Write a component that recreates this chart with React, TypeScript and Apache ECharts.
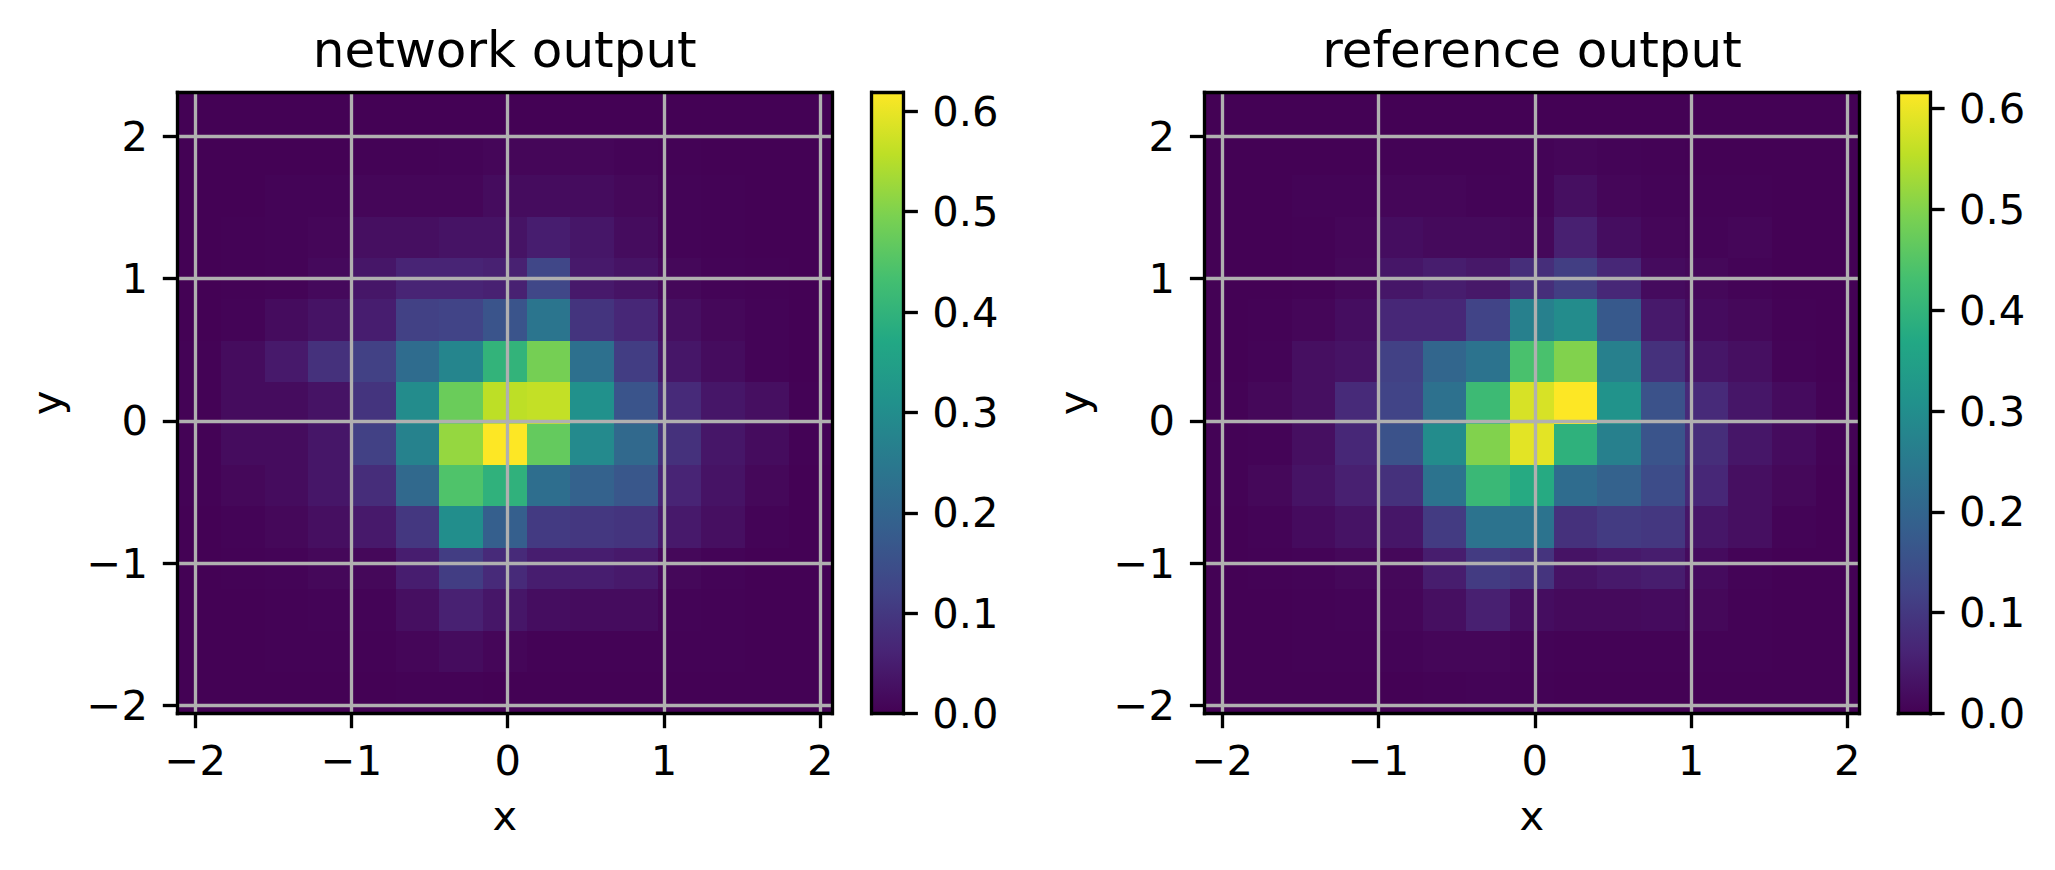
import React, { useEffect, useRef } from 'react';
import * as echarts from 'echarts';

// ---------- data ----------
const X_RANGE = [-2.114, 2.077];
const Y_RANGE = [-2.058, 2.31];
const N_BINS = 15;
const AXIS_TICKS = [-2, -1, 0, 1, 2];
const CBAR_TICKS = [0, 0.1, 0.2, 0.3, 0.4, 0.5, 0.6];
const TITLES = ['network output', 'reference output'];
const NETWORK_RANGE = [0, 0.619];
const REFERENCE_RANGE = [0, 0.616];

// rows listed from top (high y) to bottom (low y), columns left to right
const NETWORK_OUTPUT = [
  [0.001, 0.001, 0.001, 0.001, 0.001, 0.001, 0.001, 0.001, 0.001, 0.001, 0.001, 0.001, 0.001, 0.001, 0.001],
  [0.001, 0.001, 0.001, 0.001, 0.003, 0.003, 0.006, 0.009, 0.009, 0.009, 0.006, 0.003, 0.001, 0.001, 0.001],
  [0.001, 0.001, 0.006, 0.006, 0.009, 0.009, 0.009, 0.019, 0.019, 0.019, 0.012, 0.006, 0.003, 0.001, 0.001],
  [0.001, 0.003, 0.006, 0.009, 0.025, 0.025, 0.031, 0.031, 0.050, 0.037, 0.019, 0.006, 0.003, 0.001, 0.001],
  [0.001, 0.003, 0.006, 0.015, 0.037, 0.062, 0.062, 0.056, 0.130, 0.043, 0.031, 0.012, 0.006, 0.003, 0.001],
  [0.001, 0.006, 0.019, 0.031, 0.050, 0.118, 0.124, 0.161, 0.241, 0.093, 0.068, 0.025, 0.012, 0.006, 0.001],
  [0.003, 0.019, 0.043, 0.087, 0.118, 0.217, 0.279, 0.402, 0.489, 0.229, 0.111, 0.037, 0.019, 0.006, 0.001],
  [0.003, 0.019, 0.019, 0.031, 0.093, 0.297, 0.477, 0.557, 0.563, 0.310, 0.161, 0.074, 0.037, 0.025, 0.003],
  [0.003, 0.019, 0.019, 0.037, 0.118, 0.272, 0.520, 0.619, 0.470, 0.291, 0.210, 0.087, 0.037, 0.019, 0.003],
  [0.003, 0.012, 0.019, 0.037, 0.080, 0.210, 0.446, 0.396, 0.223, 0.192, 0.167, 0.062, 0.031, 0.012, 0.001],
  [0.001, 0.006, 0.012, 0.025, 0.043, 0.099, 0.303, 0.186, 0.105, 0.099, 0.093, 0.043, 0.025, 0.006, 0.001],
  [0.001, 0.003, 0.006, 0.012, 0.012, 0.050, 0.111, 0.074, 0.050, 0.050, 0.043, 0.012, 0.006, 0.001, 0.001],
  [0.001, 0.001, 0.003, 0.006, 0.006, 0.025, 0.056, 0.037, 0.022, 0.019, 0.019, 0.006, 0.003, 0.001, 0.001],
  [0.001, 0.001, 0.003, 0.003, 0.003, 0.009, 0.019, 0.009, 0.003, 0.003, 0.003, 0.003, 0.003, 0.001, 0.001],
  [0.001, 0.001, 0.001, 0.001, 0.001, 0.003, 0.003, 0.001, 0.001, 0.001, 0.001, 0.001, 0.001, 0.001, 0.001],
];

const REFERENCE_OUTPUT = [
  [0.001, 0.001, 0.001, 0.001, 0.001, 0.001, 0.001, 0.001, 0.001, 0.001, 0.001, 0.001, 0.001, 0.001, 0.001],
  [0.001, 0.001, 0.001, 0.001, 0.003, 0.003, 0.003, 0.006, 0.009, 0.006, 0.003, 0.001, 0.001, 0.001, 0.001],
  [0.001, 0.001, 0.006, 0.006, 0.009, 0.009, 0.006, 0.006, 0.025, 0.009, 0.006, 0.003, 0.003, 0.001, 0.001],
  [0.001, 0.001, 0.003, 0.009, 0.022, 0.015, 0.015, 0.012, 0.055, 0.022, 0.009, 0.006, 0.009, 0.001, 0.001],
  [0.001, 0.001, 0.003, 0.012, 0.037, 0.049, 0.040, 0.080, 0.111, 0.068, 0.018, 0.012, 0.006, 0.001, 0.001],
  [0.001, 0.003, 0.009, 0.022, 0.068, 0.068, 0.123, 0.265, 0.296, 0.172, 0.043, 0.018, 0.012, 0.003, 0.001],
  [0.001, 0.006, 0.025, 0.031, 0.117, 0.203, 0.234, 0.437, 0.499, 0.265, 0.086, 0.037, 0.025, 0.006, 0.001],
  [0.003, 0.012, 0.025, 0.074, 0.123, 0.228, 0.419, 0.579, 0.616, 0.314, 0.154, 0.074, 0.037, 0.018, 0.003],
  [0.003, 0.006, 0.025, 0.068, 0.154, 0.296, 0.499, 0.591, 0.394, 0.265, 0.160, 0.080, 0.037, 0.018, 0.003],
  [0.003, 0.012, 0.031, 0.055, 0.086, 0.234, 0.413, 0.376, 0.216, 0.191, 0.142, 0.068, 0.025, 0.012, 0.001],
  [0.001, 0.006, 0.018, 0.031, 0.037, 0.105, 0.234, 0.234, 0.086, 0.105, 0.099, 0.037, 0.025, 0.006, 0.001],
  [0.001, 0.003, 0.006, 0.012, 0.012, 0.049, 0.105, 0.092, 0.031, 0.043, 0.049, 0.018, 0.006, 0.001, 0.001],
  [0.001, 0.001, 0.003, 0.006, 0.009, 0.025, 0.055, 0.022, 0.015, 0.015, 0.018, 0.012, 0.003, 0.001, 0.001],
  [0.001, 0.001, 0.003, 0.003, 0.006, 0.009, 0.009, 0.006, 0.003, 0.003, 0.003, 0.003, 0.003, 0.001, 0.001],
  [0.001, 0.001, 0.001, 0.001, 0.001, 0.003, 0.006, 0.003, 0.001, 0.001, 0.001, 0.001, 0.001, 0.001, 0.001],
];

const VIRIDIS = [
  '#440154', '#482475', '#414487', '#355f8d', '#2a788e', '#21918c',
  '#22a884', '#44bf70', '#7ad151', '#bddf26', '#fde725',
];

// ---------- helpers ----------
const DX = (X_RANGE[1] - X_RANGE[0]) / N_BINS;
const DY = (Y_RANGE[1] - Y_RANGE[0]) / N_BINS;
const xEdge = (i: number) => X_RANGE[0] + i * DX;
const yEdge = (i: number) => Y_RANGE[1] - i * DY;

// each cell: [column, row, value]
function toCells(rows: number[][]) {
  const out: number[][] = [];
  rows.forEach((row, r) => row.forEach((v, c) => out.push([c, r, v])));
  return out;
}

const FONT = 'DejaVu Sans';
const FS = 41.67;
const LW = 3.33;
const BLACK = '#000000';

const fmtAxis = (v: number) => (v < 0 ? '\u2212' : '') + String(Math.abs(v));
const fmtCbar = (v: number) => v.toFixed(1);

const lineStyle = { color: BLACK, width: LW, cap: 'square' };

function frameAxis(gridIndex: number, position: string, min: number, max: number) {
  return {
    type: 'value',
    gridIndex,
    position,
    min,
    max,
    z: 6,
    axisLine: { show: true, onZero: false, lineStyle },
    axisTick: { show: false },
    axisLabel: { show: false },
    splitLine: { show: false },
  };
}

function mainX(gridIndex: number) {
  return {
    type: 'value',
    gridIndex,
    position: 'bottom',
    min: X_RANGE[0],
    max: X_RANGE[1],
    z: 5,
    name: 'x',
    nameLocation: 'middle',
    nameGap: 81,
    nameMoveOverlap: false,
    nameTextStyle: { fontFamily: FONT, fontSize: FS, color: BLACK },
    axisLine: { show: true, onZero: false, lineStyle },
    axisTick: {
      show: true,
      customValues: AXIS_TICKS,
      length: 14.6,
      inside: false,
      lineStyle: { color: BLACK, width: LW },
    },
    axisLabel: {
      show: true,
      customValues: AXIS_TICKS,
      margin: 26,
      fontFamily: FONT,
      fontSize: FS,
      color: BLACK,
      formatter: fmtAxis,
    },
    splitLine: { show: true, lineStyle: { color: '#b0b0b0', width: LW } },
  };
}

function mainY(gridIndex: number) {
  return {
    type: 'value',
    gridIndex,
    position: 'left',
    min: Y_RANGE[0],
    max: Y_RANGE[1],
    z: 5,
    name: 'y',
    nameLocation: 'middle',
    nameRotate: 90,
    nameGap: 110,
    nameMoveOverlap: false,
    nameTextStyle: { fontFamily: FONT, fontSize: FS, color: BLACK },
    axisLine: { show: true, onZero: false, lineStyle },
    axisTick: {
      show: true,
      customValues: AXIS_TICKS,
      length: 14.6,
      inside: false,
      lineStyle: { color: BLACK, width: LW },
    },
    axisLabel: {
      show: true,
      customValues: AXIS_TICKS,
      margin: 29.5,
      fontFamily: FONT,
      fontSize: FS,
      color: BLACK,
      formatter: fmtAxis,
    },
    splitLine: { show: true, lineStyle: { color: '#b0b0b0', width: LW } },
  };
}

function cbarY(gridIndex: number, max: number) {
  return {
    type: 'value',
    gridIndex,
    position: 'right',
    min: 0,
    max,
    z: 6,
    axisLine: { show: true, onZero: false, lineStyle },
    axisTick: {
      show: true,
      customValues: CBAR_TICKS,
      length: 14.6,
      inside: false,
      lineStyle: { color: BLACK, width: LW },
    },
    axisLabel: {
      show: true,
      customValues: CBAR_TICKS,
      margin: 29,
      fontFamily: FONT,
      fontSize: FS,
      color: BLACK,
      formatter: fmtCbar,
    },
    splitLine: { show: false },
  };
}

const cellRender = (_params: any, api: any) => {
  const c = api.value(0);
  const r = api.value(1);
  const a = api.coord([xEdge(c), yEdge(r)]);
  const b = api.coord([xEdge(c + 1), yEdge(r + 1)]);
  const x0 = Math.round(a[0]);
  const y0 = Math.round(a[1]);
  const x1 = Math.round(b[0]);
  const y1 = Math.round(b[1]);
  return {
    type: 'rect',
    shape: { x: x0, y: y0, width: x1 - x0, height: y1 - y0 },
    style: { fill: api.visual('color') },
  };
};

const cbarRender = (_params: any, api: any) => {
  const a = api.coord([0, api.value(1)]);
  const b = api.coord([1, api.value(0)]);
  return {
    type: 'rect',
    shape: { x: a[0], y: a[1], width: b[0] - a[0], height: b[1] - a[1] },
    style: {
      fill: new echarts.graphic.LinearGradient(
        0, 1, 0, 0,
        VIRIDIS.map((col, i) => ({ offset: i / (VIRIDIS.length - 1), color: col }))
      ),
    },
  };
};

const GRID_TOP = 92.3;
const GRID_H = 621.3;

export default function App() {
  const ref = useRef<HTMLDivElement>(null);

  useEffect(() => {
    if (!ref.current) return;
    const chart = echarts.init(ref.current, undefined, { renderer: 'svg' });
    const option: any = {
      animation: false,
      backgroundColor: '#ffffff',
      grid: [
        { left: 177.4, top: GRID_TOP, width: 654.8, height: GRID_H, outerBoundsMode: 'none' },
        { left: 871.7, top: GRID_TOP, width: 31.6, height: GRID_H, outerBoundsMode: 'none' },
        { left: 1204.5, top: GRID_TOP, width: 654.9, height: GRID_H, outerBoundsMode: 'none' },
        { left: 1898.3, top: GRID_TOP, width: 31.7, height: GRID_H, outerBoundsMode: 'none' },
      ],
      xAxis: [
        mainX(0),
        frameAxis(0, 'top', X_RANGE[0], X_RANGE[1]),
        frameAxis(1, 'bottom', 0, 1),
        frameAxis(1, 'top', 0, 1),
        mainX(2),
        frameAxis(2, 'top', X_RANGE[0], X_RANGE[1]),
        frameAxis(3, 'bottom', 0, 1),
        frameAxis(3, 'top', 0, 1),
      ],
      yAxis: [
        mainY(0),
        frameAxis(0, 'right', Y_RANGE[0], Y_RANGE[1]),
        frameAxis(1, 'left', 0, NETWORK_RANGE[1]),
        cbarY(1, NETWORK_RANGE[1]),
        mainY(2),
        frameAxis(2, 'right', Y_RANGE[0], Y_RANGE[1]),
        frameAxis(3, 'left', 0, REFERENCE_RANGE[1]),
        cbarY(3, REFERENCE_RANGE[1]),
      ],
      visualMap: [
        {
          type: 'continuous', show: false, seriesIndex: 0, dimension: 2,
          min: NETWORK_RANGE[0], max: NETWORK_RANGE[1], inRange: { color: VIRIDIS },
        },
        {
          type: 'continuous', show: false, seriesIndex: 2, dimension: 2,
          min: REFERENCE_RANGE[0], max: REFERENCE_RANGE[1], inRange: { color: VIRIDIS },
        },
      ],
      series: [
        {
          type: 'custom', name: TITLES[0], xAxisIndex: 0, yAxisIndex: 0,
          renderItem: cellRender, encode: { x: -1, y: -1 }, data: toCells(NETWORK_OUTPUT), z: 2,
        },
        {
          type: 'custom', xAxisIndex: 2, yAxisIndex: 2,
          renderItem: cbarRender, data: [NETWORK_RANGE], z: 2,
        },
        {
          type: 'custom', name: TITLES[1], xAxisIndex: 4, yAxisIndex: 4,
          renderItem: cellRender, encode: { x: -1, y: -1 }, data: toCells(REFERENCE_OUTPUT), z: 2,
        },
        {
          type: 'custom', xAxisIndex: 6, yAxisIndex: 6,
          renderItem: cbarRender, data: [REFERENCE_RANGE], z: 2,
        },
      ],
      graphic: [
        {
          type: 'text', x: 504.8, y: 50.2,
          style: { text: TITLES[0], fontFamily: FONT, fontSize: 50, fill: BLACK, align: 'center', verticalAlign: 'middle' },
        },
        {
          type: 'text', x: 1532, y: 50.2,
          style: { text: TITLES[1], fontFamily: FONT, fontSize: 50, fill: BLACK, align: 'center', verticalAlign: 'middle' },
        },
      ],
    };
    chart.setOption(option);
    return () => chart.dispose();
  }, []);

  return (
    <div
      ref={ref}
      style={{ position: 'absolute', left: 0, top: 0, width: 2055, height: 870 }}
    />
  );
}
